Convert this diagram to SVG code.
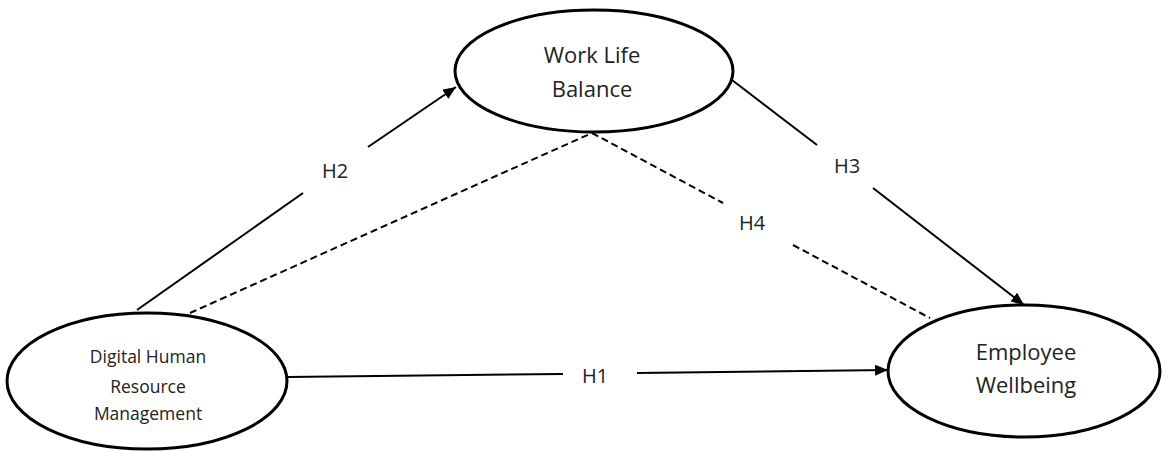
<svg xmlns="http://www.w3.org/2000/svg" width="1162" height="452" viewBox="0 0 1162 452">
  <style>
    .node { fill: #ffffff; stroke: #000000; stroke-width: 3; }
    .lbl { font-family: "Open Sans", "Liberation Sans", sans-serif; fill: #222222; text-anchor: middle; }
    .big { font-size: 22px; }
    .small { font-size: 17.5px; }
    .hyp { font-family: "Open Sans", "Liberation Sans", sans-serif; font-size: 20px; fill: #222222; text-anchor: middle; }
    .edge { stroke: #000000; stroke-width: 2; fill: none; }
    .dash { stroke: #000000; stroke-width: 2; fill: none; stroke-dasharray: 7 4; }
  </style>
  <defs>
    <marker id="arrow" viewBox="0 0 13 11" refX="13" refY="5.5" markerWidth="13" markerHeight="11" markerUnits="userSpaceOnUse" orient="auto">
      <path d="M0,0 L13,5.5 L0,11 Z" fill="#000000"/>
    </marker>
  </defs>
  <rect width="1162" height="452" fill="#ffffff"/>

  <g id="connectors">
    <!-- H2 -->
    <line class="edge" x1="137" y1="310" x2="303" y2="193"/>
    <line class="edge" x1="368" y1="147" x2="456" y2="87" marker-end="url(#arrow)"/>
    <text class="hyp" x="335" y="178">H2</text>
    <!-- dashed DHRM to WLB -->
    <line class="dash" x1="190" y1="313" x2="592" y2="133"/>
    <!-- H4 dashed WLB to EW -->
    <line class="dash" x1="592" y1="133" x2="723" y2="203"/>
    <line class="dash" x1="793" y1="245" x2="930" y2="318"/>
    <text class="hyp" x="752" y="230">H4</text>
    <!-- H3 -->
    <line class="edge" x1="732" y1="80" x2="817" y2="145"/>
    <line class="edge" x1="873" y1="188" x2="1024" y2="305" marker-end="url(#arrow)"/>
    <text class="hyp" x="847" y="173">H3</text>
    <!-- H1 -->
    <line class="edge" x1="288" y1="377" x2="563" y2="374"/>
    <line class="edge" x1="637" y1="373" x2="888" y2="370" marker-end="url(#arrow)"/>
    <text class="hyp" x="595" y="383">H1</text>
  </g>

  <g id="wlb">
    <ellipse class="node" cx="594" cy="71" rx="139" ry="61"/>
    <text class="lbl big" x="592" y="63">Work Life</text>
    <text class="lbl big" x="592" y="97">Balance</text>
  </g>

  <g id="dhrm">
    <ellipse class="node" cx="147" cy="381" rx="140" ry="68"/>
    <text class="lbl small" x="148" y="363">Digital Human</text>
    <text class="lbl small" x="148" y="393">Resource</text>
    <text class="lbl small" x="148" y="420">Management</text>
  </g>

  <g id="ew">
    <ellipse class="node" cx="1024" cy="371" rx="136" ry="66"/>
    <text class="lbl big" x="1026" y="360">Employee</text>
    <text class="lbl big" x="1026" y="393">Wellbeing</text>
  </g>
</svg>
